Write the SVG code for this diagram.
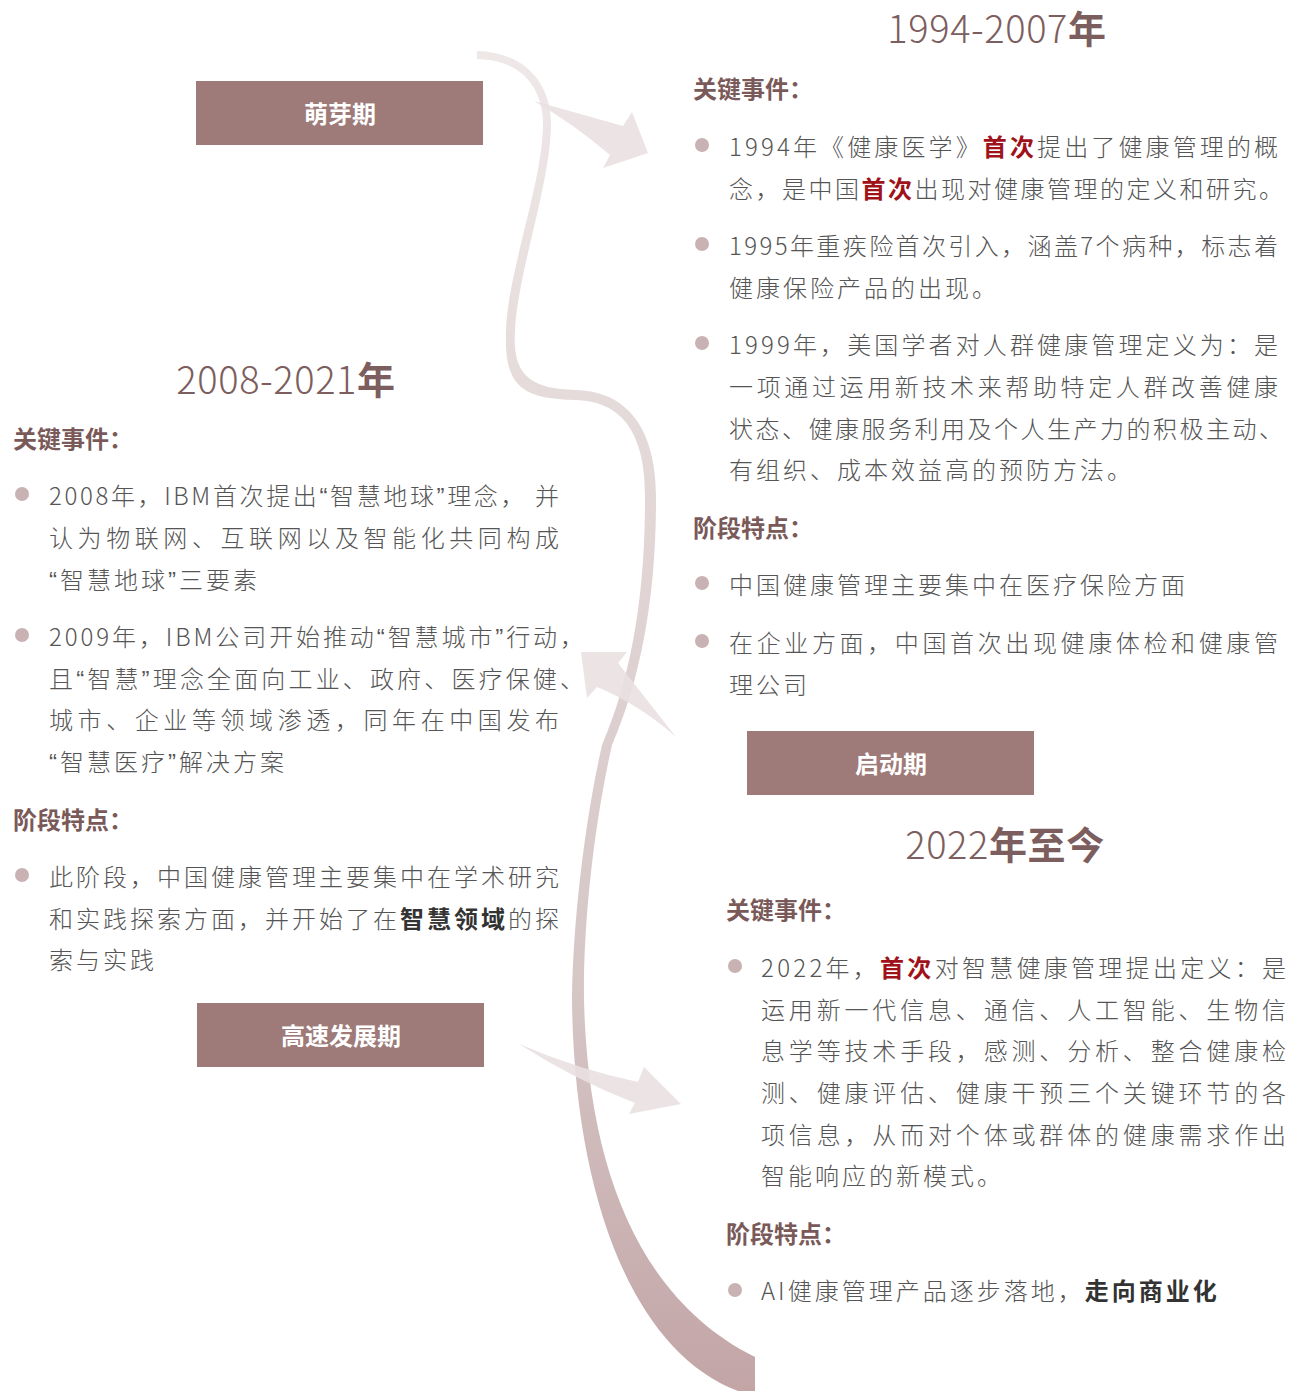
<svg xmlns="http://www.w3.org/2000/svg" width="1290" height="1391" viewBox="0 0 1290 1391">
<defs>
<linearGradient id="rib" gradientUnits="userSpaceOnUse" x1="0" y1="50" x2="0" y2="1391">
<stop offset="0" stop-color="#efe8e8"/>
<stop offset="0.35" stop-color="#e2d6d6"/>
<stop offset="0.7" stop-color="#d6c6c6"/>
<stop offset="1" stop-color="#c3a5a6"/>
</linearGradient>
<style>
.box{fill:#9e7a78}
.bt{fill:#fff;font-family:"Noto Sans CJK SC",sans-serif;font-size:24px;font-weight:700;text-anchor:middle}
.yr{fill:#7d5e5e;font-family:"Noto Sans CJK SC",sans-serif;font-size:38px;font-weight:200;text-anchor:middle;letter-spacing:0.6px}
.yb{font-weight:700}
.h{fill:#7a5959;font-family:"Noto Sans CJK SC",sans-serif;font-size:24px;font-weight:700}
.t{fill:#555;font-family:"Noto Sans CJK SC",sans-serif;font-size:24px;font-weight:300;letter-spacing:3px}
.r{fill:#a0121a;font-weight:700}
.b{fill:#333;font-weight:700}
.q{font-family:"Liberation Sans",sans-serif}
.dot{fill:#c9b2b3}
.arr{fill:#e9e0e1;opacity:0.9}
</style>
</defs>
<rect width="1290" height="1391" fill="#fff"/>

<g id="connectors">
<path fill="url(#rib)" d="M477,51 C522,52 549,80 551,120 C552,180 518,270 515,330 C512,375 530,389 575,390 C635,391 657,440 656,500 C656,600 640,680 612,745 C595,820 583,920 584,1000 C588,1170 640,1300 755,1357 L755,1391 L738,1391 C630,1350 574,1190 572,1000 C573,920 585,820 602,745 C630,680 645,600 645,500 C646,445 630,401 575,400 C520,399 504,385 506,330 C508,270 544,180 543,120 C541,85 520,60 477,59 Z"/>
<path class="arr" d="M534,101 L623,126 L632,112 L648,153 L603,168 L610,155 Q575,125 534,101 Z"/>
<path class="arr" d="M581,652 L627,652 L618,663 L676,737 Q640,705 597,687 L587,698 Z"/>
<path class="arr" d="M519,1044 Q580,1070 638,1082 L644,1067 L681,1104 L629,1114 L635,1103 Q575,1080 519,1044 Z"/>
</g>

<g id="node-mengya">
<rect class="box" x="196" y="81" width="287" height="64"/>
<text class="bt" x="340" y="123">萌芽期</text>
</g>

<g id="node-qidong">
<rect class="box" x="747" y="731" width="287" height="64"/>
<text class="bt" x="891" y="773">启动期</text>
</g>

<g id="node-gaosu">
<rect class="box" x="197" y="1003" width="287" height="64"/>
<text class="bt" x="341" y="1045">高速发展期</text>
</g>

<g id="node-1994">
<text class="yr" x="997" y="43">1994-2007<tspan class="yb">年</tspan></text>
<text class="h" x="693" y="98">关键事件：</text>
<circle class="dot" cx="702" cy="145" r="7"/>
<circle class="dot" cx="702" cy="244" r="7"/>
<circle class="dot" cx="702" cy="343" r="7"/>
<text class="t" x="729" y="156" textLength="552" lengthAdjust="spacing">1994年《健康医学》<tspan class="r">首次</tspan>提出了健康管理的概</text>
<text class="t" x="729" y="198" textLength="557" lengthAdjust="spacing">念，是中国<tspan class="r">首次</tspan>出现对健康管理的定义和研究。</text>
<text class="t" x="729" y="255" textLength="552" lengthAdjust="spacing">1995年重疾险首次引入，涵盖7个病种，标志着</text>
<text class="t" x="729" y="297">健康保险产品的出现。</text>
<text class="t" x="729" y="354" textLength="552" lengthAdjust="spacing">1999年，美国学者对人群健康管理定义为：是</text>
<text class="t" x="729" y="396" textLength="552" lengthAdjust="spacing">一项通过运用新技术来帮助特定人群改善健康</text>
<text class="t" x="729" y="438" textLength="557" lengthAdjust="spacing">状态、健康服务利用及个人生产力的积极主动、</text>
<text class="t" x="729" y="479">有组织、成本效益高的预防方法。</text>
<text class="h" x="693" y="537">阶段特点：</text>
<circle class="dot" cx="702" cy="583" r="7"/>
<circle class="dot" cx="702" cy="641" r="7"/>
<text class="t" x="729" y="594">中国健康管理主要集中在医疗保险方面</text>
<text class="t" x="729" y="652" textLength="552" lengthAdjust="spacing">在企业方面，中国首次出现健康体检和健康管</text>
<text class="t" x="729" y="694">理公司</text>
</g>

<g id="node-2008">
<text class="yr" x="286" y="394">2008-2021<tspan class="yb">年</tspan></text>
<text class="h" x="13" y="448">关键事件：</text>
<circle class="dot" cx="22" cy="494" r="7"/>
<circle class="dot" cx="22" cy="635" r="7"/>
<text class="t" x="49" y="505" textLength="513" lengthAdjust="spacing">2008年，IBM首次提出<tspan class="q">“</tspan>智慧地球<tspan class="q">”</tspan>理念，  并</text>
<text class="t" x="49" y="547" textLength="513" lengthAdjust="spacing">认为物联网、互联网以及智能化共同构成</text>
<text class="t" x="49" y="589"><tspan class="q">“</tspan>智慧地球<tspan class="q">”</tspan>三要素</text>
<text class="t" x="49" y="646" textLength="538" lengthAdjust="spacing">2009年，IBM公司开始推动<tspan class="q">“</tspan>智慧城市<tspan class="q">”</tspan>行动，</text>
<text class="t" x="49" y="688" textLength="538" lengthAdjust="spacing">且<tspan class="q">“</tspan>智慧<tspan class="q">”</tspan>理念全面向工业、政府、医疗保健、</text>
<text class="t" x="49" y="729" textLength="513" lengthAdjust="spacing">城市、企业等领域渗透，同年在中国发布</text>
<text class="t" x="49" y="771"><tspan class="q">“</tspan>智慧医疗<tspan class="q">”</tspan>解决方案</text>
<text class="h" x="13" y="829">阶段特点：</text>
<circle class="dot" cx="22" cy="875" r="7"/>
<text class="t" x="49" y="886" textLength="513" lengthAdjust="spacing">此阶段，中国健康管理主要集中在学术研究</text>
<text class="t" x="49" y="928" textLength="513" lengthAdjust="spacing">和实践探索方面，并开始了在<tspan class="b">智慧领域</tspan>的探</text>
<text class="t" x="49" y="969">索与实践</text>
</g>

<g id="node-2022">
<text class="yr" x="1005" y="859">2022<tspan class="yb">年至今</tspan></text>
<text class="h" x="726" y="919">关键事件：</text>
<circle class="dot" cx="735" cy="966" r="7"/>
<text class="t" x="761" y="977" textLength="528" lengthAdjust="spacing">2022年，<tspan class="r">首次</tspan>对智慧健康管理提出定义：是</text>
<text class="t" x="761" y="1019" textLength="528" lengthAdjust="spacing">运用新一代信息、通信、人工智能、生物信</text>
<text class="t" x="761" y="1060" textLength="528" lengthAdjust="spacing">息学等技术手段，感测、分析、整合健康检</text>
<text class="t" x="761" y="1102" textLength="528" lengthAdjust="spacing">测、健康评估、健康干预三个关键环节的各</text>
<text class="t" x="761" y="1144" textLength="528" lengthAdjust="spacing">项信息，从而对个体或群体的健康需求作出</text>
<text class="t" x="761" y="1185">智能响应的新模式。</text>
<text class="h" x="726" y="1243">阶段特点：</text>
<circle class="dot" cx="735" cy="1290" r="7"/>
<text class="t" x="761" y="1300">AI健康管理产品逐步落地，<tspan class="b">走向商业化</tspan></text>
</g>
</svg>
